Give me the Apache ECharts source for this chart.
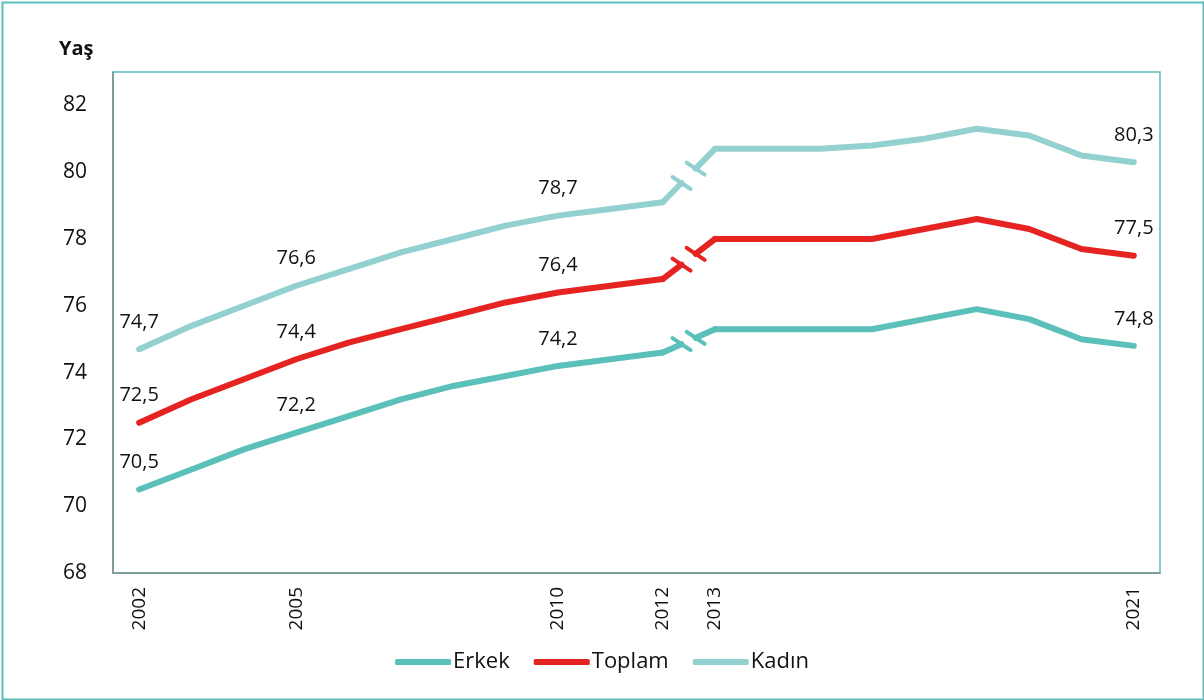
<!DOCTYPE html>
<html><head><meta charset="utf-8">
<script src="https://cdn.jsdelivr.net/npm/echarts@6/dist/echarts.min.js"></script>
<style>html,body{margin:0;padding:0;background:#fff}#c{width:1204px;height:700px}</style>
</head><body><div id="c"></div>
<script>
const years = ['2002','2003','2004','2005','2006','2007','2008','2009','2010','2011','2012','2013','2014','2015','2016','2017','2018','2019','2020','2021'];
const shownYears = ['2002','2005','2010','2012','2013','2021'];
const labelYears = ['2002','2005','2010','2021'];
const erkek  = [70.5,71.1,71.7,72.2,72.7,73.2,73.6,73.9,74.2,74.4,74.6,75.3,75.3,75.3,75.3,75.6,75.9,75.6,75.0,74.8];
const toplam = [72.5,73.2,73.8,74.4,74.9,75.3,75.7,76.1,76.4,76.6,76.8,78.0,78.0,78.0,78.0,78.3,78.6,78.3,77.7,77.5];
const kadin  = [74.7,75.4,76.0,76.6,77.1,77.6,78.0,78.4,78.7,78.9,79.1,80.7,80.7,80.7,80.8,81.0,81.3,81.1,80.5,80.3];
const seriesNames = ['Erkek','Toplam','Kadın'];
const colors = ['#5bbfba','#e52421','#93d1d0'];
const yTitle = 'Yaş';

const breakStart = years.indexOf('2012');
const breakEnd = years.indexOf('2013');
const FONT = '"Open Sans", "Noto Sans", sans-serif';

function fmt(v){ return String(v.toFixed(1)).replace('.', ','); }

const series = [];
[erkek, toplam, kadin].forEach((arr, si) => {
  const first = arr.map((v,i) => i <= breakStart ? v : null);
  const second = arr.map((v,i) => i >= breakEnd ? v : null);
  [first, second].forEach(d => {
    series.push({
      name: seriesNames[si], type: 'line', data: d, symbol: 'circle', symbolSize: 0, showSymbol: true, smooth: false,
      lineStyle: {color: colors[si], width: 6, cap: 'round', join: 'round'},
      itemStyle: {color: colors[si]},
      label: {
        show: true, position: 'top', distance: 17, fontSize: 20, color: '#111', fontFamily: FONT,
        formatter: p => (labelYears.indexOf(years[p.dataIndex]) >= 0 && p.value != null) ? fmt(p.value) : ''
      },
      z: 3
    });
  });
  series.push({
    name: seriesNames[si], type: 'custom',
    data: [[breakStart, arr[breakStart], breakEnd, arr[breakEnd]]],
    encode: {x: [0,2], y: [1,3]},
    z: 3,
    renderItem: function(params, api){
      const p0 = api.coord([api.value(0), api.value(1)]);
      const p1 = api.coord([api.value(2), api.value(3)]);
      const lerp = t => [p0[0] + (p1[0]-p0[0])*t, p0[1] + (p1[1]-p0[1])*t];
      const a = lerp(0.36), b = lerp(0.63);
      const st = {stroke: colors[si], lineWidth: 6, lineCap: 'round'};
      const mst = {stroke: colors[si], lineWidth: 4, lineCap: 'round'};
      const dx = 9, dy = 6;
      const mark = c => ({type: 'line', shape: {x1: c[0]-dx, y1: c[1]-dy, x2: c[0]+dx, y2: c[1]+dy}, style: mst});
      return {type: 'group', children: [
        {type: 'line', shape: {x1: p0[0], y1: p0[1], x2: a[0], y2: a[1]}, style: st},
        {type: 'line', shape: {x1: b[0], y1: b[1], x2: p1[0], y2: p1[1]}, style: st},
        mark(a), mark(b)
      ]};
    }
  });
});

const chart = echarts.init(document.getElementById('c'), null, {renderer: 'canvas'});
chart.setOption({
  animation: false,
  backgroundColor: '#fff',
  color: colors,
  title: {text: yTitle, left: 54, top: 34, textStyle: {fontSize: 20, fontWeight: 'bold', color: '#111', fontFamily: FONT}},
  grid: {left: 113, top: 72, right: 44, bottom: 127, show: true, borderColor: '#5bbfba', borderWidth: 1.5, backgroundColor: 'transparent'},
  legend: {
    bottom: 22, left: 'center', itemWidth: 56, itemHeight: 6, itemGap: 24,
    textStyle: {fontSize: 22, color: '#111', fontFamily: FONT, padding: [0,0,0,-3]},
    data: seriesNames.map((n,i) => ({name: n, icon: 'roundRect', itemStyle: {color: colors[i]}}))
  },
  xAxis: {
    type: 'category', data: years, boundaryGap: true,
    axisLine: {show: true, lineStyle: {color: '#7f8c8c', width: 1.5}},
    axisTick: {show: false},
    axisLabel: {
      interval: 0, rotate: 90, margin: 14, fontSize: 19, color: '#111', fontFamily: FONT,
      formatter: v => shownYears.indexOf(v) >= 0 ? v : ''
    },
    splitLine: {show: false}
  },
  yAxis: {
    type: 'value', min: 68, max: 83, interval: 2,
    axisLine: {show: true, lineStyle: {color: '#7f8c8c', width: 1.5}},
    axisTick: {show: false},
    splitLine: {show: false},
    axisLabel: {margin: 26, fontSize: 21, color: '#111', fontFamily: FONT, formatter: v => (v % 2 === 0 ? String(v) : '')}
  },
  graphic: [{type: 'rect', left: 0, top: 0, shape: {x: 1, y: 1, width: 1201, height: 697}, style: {fill: 'none', stroke: '#5bbfba', lineWidth: 2}, silent: true}],
  series: series
});
</script></body></html>
